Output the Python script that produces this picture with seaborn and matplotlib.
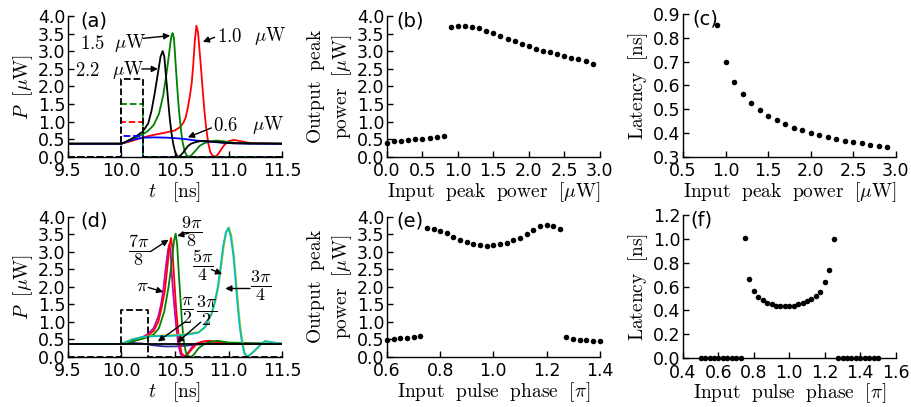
import matplotlib
matplotlib.use("Agg")
import matplotlib.pyplot as plt
import seaborn as sns

# ---------------- data ----------------
# (a) output power vs time for several input peak powers
A_T_BLACK = [9.5, 10.0, 10.05, 10.1, 10.15, 10.2, 10.25, 10.28, 10.31, 10.344, 10.365, 10.385, 10.4,
             10.42, 10.44, 10.453, 10.47, 10.484, 10.5, 10.515, 10.53, 10.55, 10.577, 10.6, 10.62,
             10.65, 10.687, 10.73, 10.78, 10.85, 10.95, 11.05, 11.5]
A_P_BLACK = [0.37, 0.37, 0.44, 0.52, 0.61, 0.72, 0.95, 1.3, 1.8, 2.45, 2.85, 3.01, 2.85,
             2.15, 1.45, 1.03, 0.62, 0.36, 0.15, 0.04, 0.0, 0.03, 0.12, 0.22, 0.3,
             0.37, 0.41, 0.44, 0.45, 0.43, 0.40, 0.38, 0.37]
A_T_GREEN = [9.5, 10.0, 10.1, 10.2, 10.25, 10.3, 10.35, 10.39, 10.415, 10.437, 10.455, 10.468, 10.478,
             10.49, 10.51, 10.525, 10.537, 10.553, 10.568, 10.59, 10.61, 10.63, 10.65, 10.67, 10.7,
             10.73, 10.77, 10.81, 10.88, 10.95, 11.05, 11.2, 11.5]
A_P_GREEN = [0.37, 0.37, 0.49, 0.64, 0.74, 0.9, 1.22, 1.75, 2.25, 2.74, 3.2, 3.45, 3.52,
             3.38, 2.46, 1.8, 1.31, 0.85, 0.46, 0.15, 0.03, 0.0, 0.03, 0.1, 0.2,
             0.31, 0.38, 0.42, 0.46, 0.44, 0.40, 0.38, 0.37]
A_T_RED = [9.5, 10.0, 10.1, 10.2, 10.3, 10.4, 10.5, 10.55, 10.58, 10.6, 10.62, 10.64, 10.655, 10.67,
           10.685, 10.7, 10.715, 10.73, 10.745, 10.76, 10.775, 10.79, 10.81, 10.83, 10.85, 10.875,
           10.9, 10.93, 10.96, 11.0, 11.05, 11.1, 11.2, 11.5]
A_P_RED = [0.37, 0.37, 0.45, 0.55, 0.62, 0.68, 0.75, 0.85, 0.98, 1.12, 1.4, 1.75, 2.07, 2.6,
           3.3, 3.73, 3.55, 3.0, 2.45, 1.85, 1.3, 0.85, 0.4, 0.13, 0.03, 0.0,
           0.06, 0.2, 0.33, 0.44, 0.48, 0.45, 0.39, 0.37]
A_T_BLUE = [9.5, 10.0, 10.05, 10.1, 10.2, 10.3, 10.4, 10.5, 10.6, 10.7, 10.8, 10.9, 11.0, 11.2, 11.5]
A_P_BLUE = [0.37, 0.37, 0.43, 0.48, 0.54, 0.55, 0.545, 0.53, 0.5, 0.46, 0.43, 0.41, 0.39, 0.37, 0.37]
A_PULSE_AMPS = [1.0, 1.5, 0.6, 2.2]          # red, green, blue, black
A_PULSE_START, A_PULSE_END = 10.0, 10.2

# (d) output power vs time for several input phases
D_T_NAVY = [9.5, 10.0, 10.1, 10.2, 10.3, 10.4, 10.5, 10.6, 10.7, 10.8, 11.0, 11.5]
D_P_NAVY = [0.37, 0.37, 0.40, 0.38, 0.33, 0.30, 0.30, 0.32, 0.35, 0.37, 0.38, 0.37]
D_T_MAG = [9.5, 10.0, 10.1, 10.2, 10.25, 10.3, 10.344, 10.37, 10.39, 10.42, 10.435, 10.447, 10.458,
           10.469, 10.485, 10.5, 10.515, 10.53, 10.55, 10.57, 10.6, 10.63, 10.656, 10.7, 10.75, 10.8,
           10.9, 11.0, 11.5]
D_P_MAG = [0.37, 0.37, 0.46, 0.57, 0.66, 0.82, 1.15, 1.5, 1.9, 2.7, 3.05, 3.21, 3.0,
           2.4, 1.75, 1.23, 0.75, 0.37, 0.1, 0.0, 0.05, 0.15, 0.27, 0.38, 0.43, 0.45,
           0.42, 0.38, 0.37]
D_T_RED = [9.5, 10.0, 10.1, 10.2, 10.25, 10.3, 10.344, 10.375, 10.406, 10.43, 10.45, 10.463, 10.475,
           10.49, 10.51, 10.525, 10.54, 10.56, 10.59, 10.62, 10.65, 10.7, 10.75, 10.82, 10.9, 11.0, 11.5]
D_P_RED = [0.37, 0.37, 0.45, 0.55, 0.62, 0.74, 1.0, 1.4, 1.9, 2.6, 3.2, 3.39, 3.1,
           2.35, 1.4, 0.85, 0.45, 0.12, 0.0, 0.08, 0.2, 0.36, 0.43, 0.46, 0.42, 0.38, 0.37]
D_T_GRN = [9.5, 10.0, 10.1, 10.2, 10.25, 10.3, 10.35, 10.4, 10.44, 10.47, 10.49, 10.506, 10.52,
           10.535, 10.55, 10.565, 10.58, 10.6, 10.625, 10.65, 10.68, 10.72, 10.78, 10.85, 10.9,
           11.0, 11.5]
D_P_GRN = [0.37, 0.37, 0.44, 0.52, 0.57, 0.64, 0.82, 1.3, 2.0, 2.7, 3.3, 3.51, 3.2,
           2.4, 1.7, 1.0, 0.5, 0.15, 0.02, 0.0, 0.08, 0.25, 0.38, 0.44, 0.46, 0.41, 0.37]
D_T_CYN = [9.5, 10.0, 10.1, 10.2, 10.3, 10.47, 10.6, 10.72, 10.78, 10.84, 10.87, 10.9, 10.925, 10.95,
           10.975, 10.998, 11.02, 11.045, 11.065, 11.086, 11.105, 11.123, 11.145, 11.17, 11.2, 11.25,
           11.3, 11.34, 11.4, 11.5]
D_P_CYN = [0.37, 0.37, 0.5, 0.57, 0.59, 0.6, 0.63, 0.69, 0.85, 1.23, 1.55, 2.0, 2.55, 3.15,
           3.55, 3.67, 3.45, 2.9, 2.2, 1.42, 0.85, 0.46, 0.12, 0.0, 0.06, 0.2,
           0.36, 0.45, 0.42, 0.38]
D_T_YEL = [9.5, 10.0, 10.1, 10.2, 10.3, 10.47, 10.6, 10.72, 10.785, 10.845, 10.875, 10.905, 10.93,
           10.955, 10.98, 11.004, 11.026, 11.05, 11.07, 11.092, 11.11, 11.13, 11.15, 11.175, 11.205,
           11.255, 11.305, 11.345, 11.4, 11.5]
D_P_YEL = [0.37, 0.37, 0.5, 0.57, 0.6, 0.62, 0.65, 0.71, 0.86, 1.24, 1.56, 2.0, 2.55, 3.15,
           3.56, 3.69, 3.46, 2.9, 2.2, 1.42, 0.85, 0.46, 0.12, 0.0, 0.06, 0.2,
           0.36, 0.45, 0.42, 0.38]
D_T_BASE = [9.5, 11.5]
D_P_BASE = [0.37, 0.37]
D_PULSE_AMP = 1.35
D_PULSE_START, D_PULSE_END = 10.0, 10.245

# (b) output peak power vs input peak power
B_IN = [0.0, 0.1, 0.2, 0.3, 0.4, 0.5, 0.6, 0.7, 0.8, 0.9, 1.0, 1.1, 1.2, 1.3, 1.4, 1.5, 1.6, 1.7,
        1.8, 1.9, 2.0, 2.1, 2.2, 2.3, 2.4, 2.5, 2.6, 2.7, 2.8, 2.9]
B_OUT = [0.40, 0.44, 0.46, 0.47, 0.49, 0.51, 0.53, 0.56, 0.60, 3.69, 3.72, 3.72, 3.70, 3.66, 3.59,
         3.51, 3.44, 3.36, 3.29, 3.21, 3.14, 3.08, 3.02, 2.97, 2.92, 2.87, 2.82, 2.77, 2.72, 2.64]

# (c) latency vs input peak power
C_IN = [0.9, 1.0, 1.1, 1.2, 1.3, 1.4, 1.5, 1.6, 1.7, 1.8, 1.9, 2.0, 2.1, 2.2, 2.3, 2.4, 2.5, 2.6,
        2.7, 2.8, 2.9]
C_LAT = [0.855, 0.70, 0.615, 0.563, 0.525, 0.495, 0.473, 0.453, 0.436, 0.422, 0.411, 0.400, 0.391,
         0.383, 0.376, 0.367, 0.362, 0.356, 0.349, 0.345, 0.341]

# (e) output peak power vs input pulse phase, (f) latency vs phase
E_PHASE = [0.6, 0.625, 0.65, 0.675, 0.7, 0.725, 0.75, 0.775, 0.8, 0.825, 0.85, 0.875, 0.9, 0.925,
           0.95, 0.975, 1.0, 1.025, 1.05, 1.075, 1.1, 1.125, 1.15, 1.175, 1.2, 1.225, 1.25,
           1.275, 1.3, 1.325, 1.35, 1.375, 1.4]
E_OUT = [0.48, 0.51, 0.53, 0.55, 0.57, 0.59, 3.66, 3.64, 3.60, 3.53, 3.43, 3.34, 3.28, 3.22,
         3.19, 3.17, 3.18, 3.21, 3.26, 3.32, 3.40, 3.50, 3.61, 3.72, 3.76, 3.73, 3.65,
         0.56, 0.52, 0.49, 0.48, 0.46, 0.44]
F_PHASE = [0.5, 0.525, 0.55, 0.575, 0.6, 0.625, 0.65, 0.675, 0.7, 0.725,
           0.75, 0.775, 0.8, 0.825, 0.85, 0.875, 0.9, 0.925, 0.95, 0.975, 1.0, 1.025, 1.05, 1.075,
           1.1, 1.125, 1.15, 1.175, 1.2, 1.225, 1.25,
           1.275, 1.3, 1.325, 1.35, 1.375, 1.4, 1.425, 1.45, 1.475, 1.5]
F_LAT = [0.0] * 10 + [1.01, 0.66, 0.565, 0.515, 0.485, 0.465, 0.45, 0.44, 0.435, 0.433, 0.435,
                      0.44, 0.45, 0.46, 0.475, 0.495, 0.52, 0.55, 0.64, 0.74, 1.00] + [0.0] * 10

# ---------------- style ----------------
sns.set_theme(style="white", rc={"axes.edgecolor": "black", "xtick.color": "black",
                                 "ytick.color": "black", "text.color": "black",
                                 "axes.labelcolor": "black"})
plt.rcParams["font.family"] = ["DejaVu Sans"]
plt.rcParams["mathtext.fontset"] = "cm"

TICK_SIZE = 12.5
LABEL_SIZE = 14
ANN_SIZE = 13.5
FRAC_SIZE = 13
LW = 1.3
ARROW = dict(arrowstyle="-|>", color="black", lw=1.0, mutation_scale=9, shrinkA=0, shrinkB=0)


def pulse(t0, t1, amp, tmin=9.5, tmax=11.5):
    return [tmin, t0, t0, t1, t1, tmax], [0, 0, amp, amp, 0, 0]


def line(ax, t, p, color, **kw):
    sns.lineplot(x=t, y=p, ax=ax, color=color, lw=LW, estimator=None, sort=False, **kw)


def dots(ax, x, y):
    sns.scatterplot(x=x, y=y, ax=ax, color="black", s=16, linewidth=0, clip_on=False, zorder=5)


def style(ax, xticks, yticks, xlabel, ylabel, tag, tag_x):
    ax.set_xlim(xticks[0], xticks[-1])
    ax.set_ylim(yticks[0], yticks[-1])
    ax.set_xticks(xticks)
    ax.set_xticklabels([f"{v:.1f}" for v in xticks])
    ax.set_yticks(yticks)
    ax.set_yticklabels([f"{v:.1f}" for v in yticks])
    sns.despine(ax=ax)
    for s in ("left", "bottom"):
        ax.spines[s].set_linewidth(1.0)
    ax.tick_params(direction="in", length=4, width=1, labelsize=TICK_SIZE,
                   bottom=True, left=True, top=False, right=False)
    ax.tick_params(axis="x", pad=4)
    ax.tick_params(axis="y", pad=2)
    ax.set_xlabel(xlabel, fontsize=LABEL_SIZE, labelpad=0)
    ax.set_ylabel(ylabel, fontsize=LABEL_SIZE, labelpad=2)
    ax.text(tag_x, 0.965, tag, transform=ax.transAxes, fontsize=14, ha="left", va="center")


def arrow(ax, start, end):
    ax.annotate("", xy=end, xytext=start, arrowprops=ARROW)


def label(ax, x, y, s, **kw):
    ax.text(x, y, s, fontsize=ANN_SIZE, ha="left", va="center", **kw)


fig = plt.figure(figsize=(9.11, 4.07), dpi=100)
W = 0.2335
ax_a = fig.add_axes([0.0746, 0.615, 0.235, 0.345])
ax_b = fig.add_axes([0.4248, 0.615, W, 0.345])
ax_c = fig.add_axes([0.7497, 0.615, W, 0.350])
ax_d = fig.add_axes([0.0746, 0.123, 0.235, 0.345])
ax_e = fig.add_axes([0.4248, 0.123, W, 0.345])
ax_f = fig.add_axes([0.7497, 0.120, W, 0.352])

T_TICKS = [9.5, 10.0, 10.5, 11.0, 11.5]
P_TICKS = [0.0, 0.5, 1.0, 1.5, 2.0, 2.5, 3.0, 3.5, 4.0]
T_LABEL = r"$t\ \ \ [\mathrm{ns}]$"
P_LABEL = r"$P\ \ [\mu\mathrm{W}]$"
OUT_LABEL = r"$\mathrm{Output\ \ peak}$" + "\n" + r"$\mathrm{power\ \ [}\mu\mathrm{W]}$"
LAT_LABEL = r"$\mathrm{Latency\ \ [ns]}$"
INP_LABEL = r"$\mathrm{Input\ \ peak\ \ power\ \ [}\mu\mathrm{W]}$"
PHASE_LABEL = r"$\mathrm{Input\ \ pulse\ \ phase\ \ [}\pi\mathrm{]}$"
UW = r"$\mu\mathrm{W}$"

# ---- (a)
line(ax_a, A_T_RED, A_P_RED, "red")
line(ax_a, A_T_GREEN, A_P_GREEN, (0, 0.5, 0))
line(ax_a, A_T_BLUE, A_P_BLUE, "blue")
line(ax_a, A_T_BLACK, A_P_BLACK, "black")
for amp, col in zip(A_PULSE_AMPS, ["red", (0, 0.5, 0), "blue", "black"]):
    pt, pp = pulse(A_PULSE_START, A_PULSE_END, amp)
    line(ax_a, pt, pp, col, linestyle="--")
style(ax_a, T_TICKS, P_TICKS, T_LABEL, P_LABEL, "(a)", 0.06)
label(ax_a, 10.89, 3.43, r"$1.0$")
label(ax_a, 11.24, 3.43, UW)
arrow(ax_a, (10.87, 3.40), (10.76, 3.27))
label(ax_a, 9.61, 3.23, r"$1.5$")
label(ax_a, 9.93, 3.23, UW)
arrow(ax_a, (10.2, 3.37), (10.455, 3.45))
label(ax_a, 9.565, 2.46, r"$2.2$")
label(ax_a, 9.91, 2.46, UW)
arrow(ax_a, (10.19, 2.50), (10.34, 2.50))
label(ax_a, 10.855, 0.89, r"$0.6$")
label(ax_a, 11.22, 0.89, UW)
arrow(ax_a, (10.84, 0.82), (10.62, 0.55))

# ---- (d)
line(ax_d, D_T_NAVY, D_P_NAVY, "#2a2a9a")
line(ax_d, D_T_MAG, D_P_MAG, (0.75, 0, 0.75))
line(ax_d, D_T_RED, D_P_RED, "red")
line(ax_d, D_T_GRN, D_P_GRN, (0, 0.5, 0))
line(ax_d, D_T_YEL, D_P_YEL, (0.75, 0.75, 0))
line(ax_d, D_T_CYN, D_P_CYN, (0, 0.75, 0.75))
line(ax_d, D_T_BASE, D_P_BASE, "black", zorder=4)
pt, pp = pulse(D_PULSE_START, D_PULSE_END, D_PULSE_AMP)
line(ax_d, pt, pp, "black", linestyle="--")
style(ax_d, T_TICKS, P_TICKS, T_LABEL, P_LABEL, "(d)", 0.06)
FR = dict(fontsize=FRAC_SIZE, ha="center", va="center")
ax_d.text(10.16, 3.05, r"$\dfrac{7\pi}{8}$", **FR)
arrow(ax_d, (10.27, 3.0), (10.44, 3.34))
ax_d.text(10.66, 3.58, r"$\dfrac{9\pi}{8}$", **FR)
arrow(ax_d, (10.63, 3.53), (10.52, 3.45))
ax_d.text(10.76, 2.60, r"$\dfrac{5\pi}{4}$", **FR)
arrow(ax_d, (10.84, 2.49), (10.94, 2.36))
ax_d.text(11.30, 2.04, r"$\dfrac{3\pi}{4}$", **FR)
arrow(ax_d, (11.20, 1.95), (10.97, 1.95))
ax_d.text(10.19, 2.04, r"$\pi$", fontsize=ANN_SIZE, ha="center", va="center")
arrow(ax_d, (10.25, 1.98), (10.39, 1.85))
ax_d.text(10.61, 1.32, r"$\dfrac{\pi}{2}$", **FR)
arrow(ax_d, (10.59, 0.99), (10.34, 0.44))
ax_d.text(10.80, 1.32, r"$\dfrac{3\pi}{2}$", **FR)
arrow(ax_d, (10.74, 0.99), (10.52, 0.41))

# ---- (b), (c), (e), (f)
dots(ax_b, B_IN, B_OUT)
style(ax_b, [0.0, 0.5, 1.0, 1.5, 2.0, 2.5, 3.0], P_TICKS, INP_LABEL, OUT_LABEL, "(b)", 0.045)
dots(ax_c, C_IN, C_LAT)
style(ax_c, [0.5, 1.0, 1.5, 2.0, 2.5, 3.0], [0.3, 0.4, 0.5, 0.6, 0.7, 0.8, 0.9],
      INP_LABEL, LAT_LABEL, "(c)", 0.042)
dots(ax_e, E_PHASE, E_OUT)
style(ax_e, [0.6, 0.8, 1.0, 1.2, 1.4], P_TICKS, PHASE_LABEL, OUT_LABEL, "(e)", 0.045)
dots(ax_f, F_PHASE, F_LAT)
style(ax_f, [0.4, 0.6, 0.8, 1.0, 1.2, 1.4, 1.6], [0.0, 0.2, 0.4, 0.6, 0.8, 1.0, 1.2],
      PHASE_LABEL, LAT_LABEL, "(f)", 0.036)

fig.savefig("out.png", dpi=100)
